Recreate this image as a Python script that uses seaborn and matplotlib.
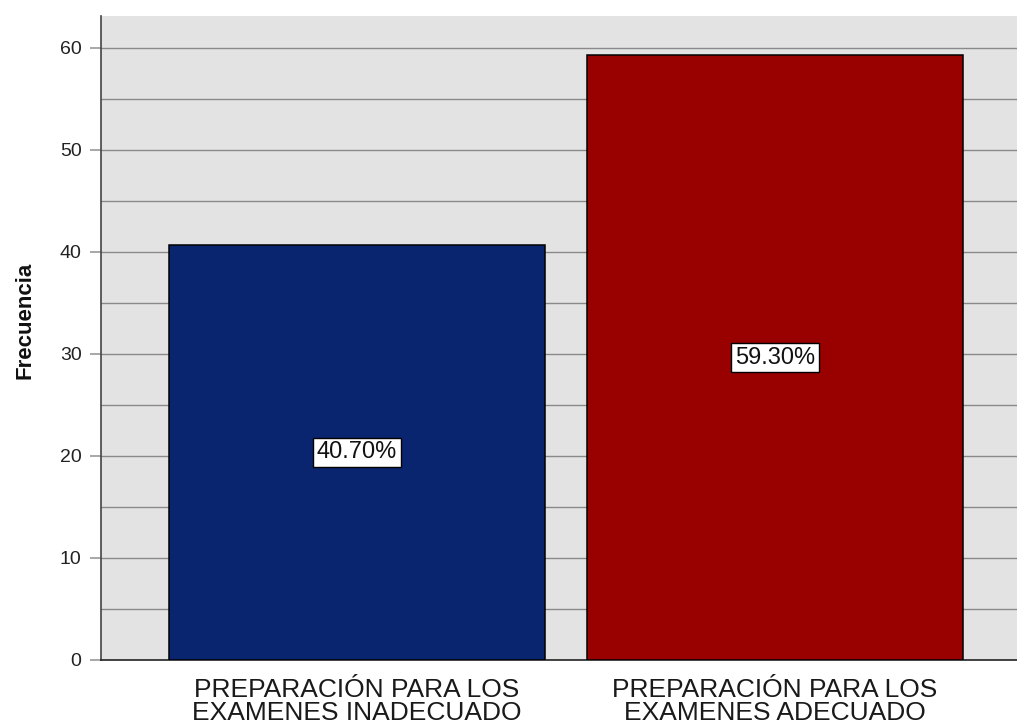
import matplotlib
matplotlib.use("Agg")
import matplotlib.pyplot as plt
import seaborn as sns
import pandas as pd

categories = ["PREPARACIÓN PARA LOS\nEXAMENES INADECUADO", "PREPARACIÓN PARA LOS\nEXAMENES ADECUADO"]
frequencies = [40.7, 59.3]
percent_labels = ["40.70%", "59.30%"]
bar_colors = ["#0a2570", "#990000"]
y_ticks = [0, 10, 20, 30, 40, 50, 60]

df = pd.DataFrame({"cat": categories, "freq": frequencies})

sns.set_theme(style="white")
plt.rcParams["font.family"] = ["Liberation Sans", "DejaVu Sans"]

fig = plt.figure(figsize=(10.17, 7.27), dpi=100)
ax = fig.add_axes([101 / 1017, 67 / 727, 1 - 101 / 1017, (660 - 16) / 727])
ax.set_facecolor("#e3e3e3")

sns.barplot(data=df, x="cat", y="freq", hue="cat", palette=bar_colors, saturation=1,
            width=0.9, edgecolor="black", linewidth=1.1, legend=False, ax=ax, zorder=3)

ax.set_xlim(-0.612, 1.579)
ax.set_ylim(0, (660 - 16) / 10.2)

for v in range(5, 65, 5):
    ax.axhline(v, color="#8a8a8a", linewidth=1.0, zorder=1)

for i, (f, lab) in enumerate(zip(frequencies, percent_labels)):
    ax.text(i, f / 2, lab, ha="center", va="center", fontsize=17, color="#111111",
            bbox=dict(boxstyle="square,pad=0.15", facecolor="white", edgecolor="black", linewidth=1.0),
            zorder=5)

ax.set_yticks(y_ticks)
ax.set_yticklabels([str(t) for t in y_ticks], fontsize=14, color="#222222")
ax.tick_params(axis="y", length=8, width=1.2, color="#9a9a9a", pad=6, left=True)
ax.tick_params(axis="x", length=0, pad=13)
for t in ax.get_xticklabels():
    t.set_fontsize(19)
    t.set_linespacing(0.95)
    t.set_color("#1a1a1a")

ax.set_xlabel("")
ax.set_ylabel("Frecuencia", fontsize=16, fontweight="bold", color="#111111")
ax.yaxis.set_label_coords(-0.072, (660 - 320) / 644)

for s in ["top", "right"]:
    ax.spines[s].set_visible(False)
ax.spines["left"].set_color("#444444")
ax.spines["left"].set_linewidth(1.2)
ax.spines["bottom"].set_color("#222222")
ax.spines["bottom"].set_linewidth(1.2)

fig.savefig("out.png", dpi=100)
